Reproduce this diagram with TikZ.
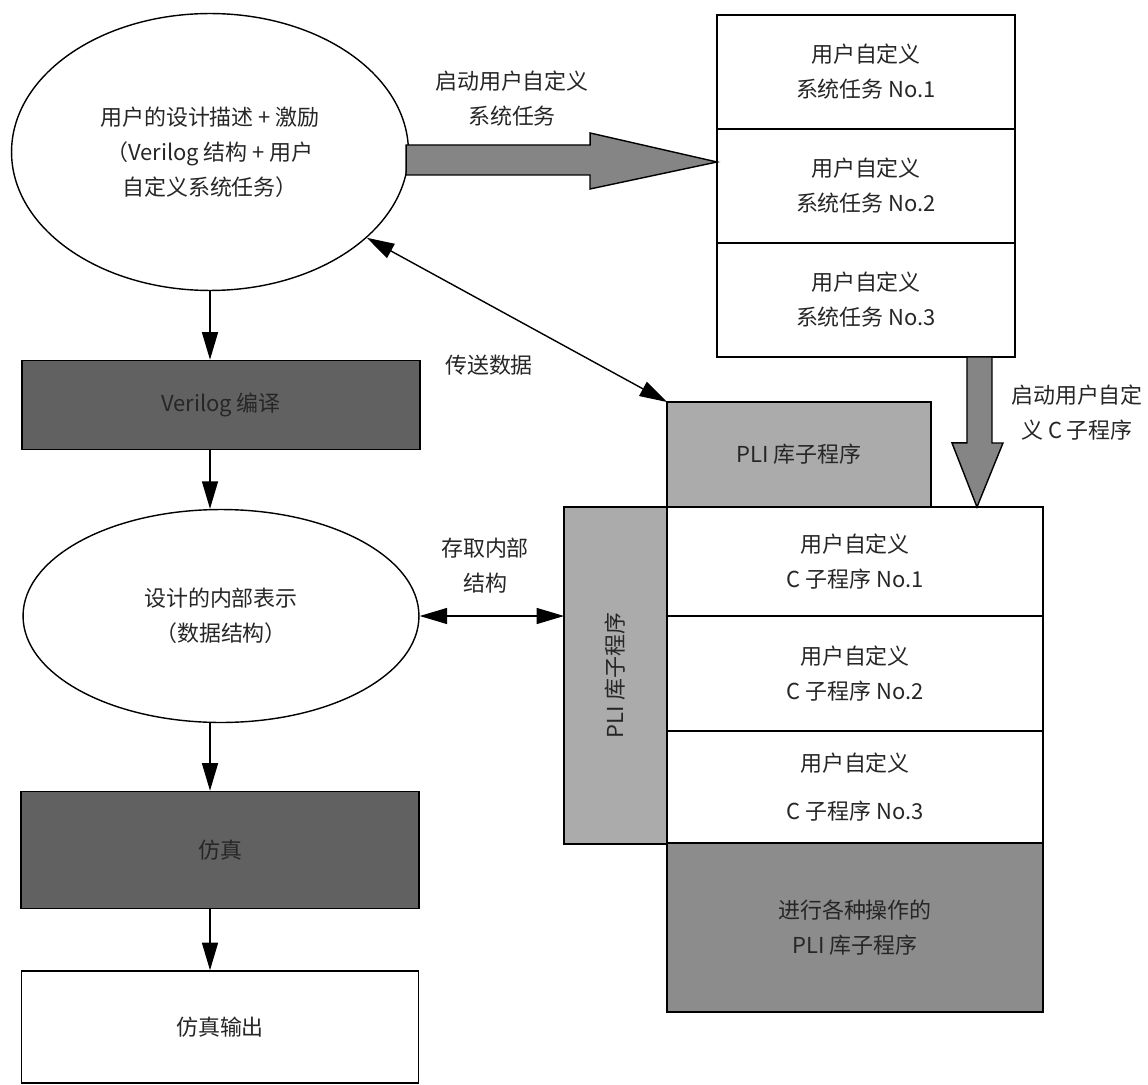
\documentclass[tikz,border=0pt]{standalone}
\usepackage{fontspec}
\setmainfont{Noto Sans CJK SC}
\usetikzlibrary{shapes.geometric,positioning,arrows.meta,calc}

\begin{document}
\begin{tikzpicture}[
  x=0.02cm, y=-0.02cm,
  >={Triangle[length=5.5mm,width=3.2mm]},
  font=\fontsize{12.5pt}{20pt}\selectfont,
  every node/.style={align=center,inner sep=0pt,text=black!85},
  bubble/.style={draw,ellipse,line width=0.8pt},
  cell/.style={draw,line width=0.9pt,fill=white,outer sep=0pt,
    minimum width=5.96cm,minimum height=2.28cm},
  ccell/.style={cell,minimum width=7.52cm},
  darkbox/.style={draw,line width=0.9pt,fill=black!62,minimum width=7.96cm},
  plibox/.style={draw,line width=0.9pt,fill=black!33,outer sep=0pt},
  fatarrow/.style={draw,line width=0.8pt,fill=black!48},
  link/.style={->,line width=0.8pt}
]
  \useasboundingbox (0,0) rectangle (1148,1084);

  % left column: flow of the simulation
  \node[bubble,minimum width=7.94cm,minimum height=5.54cm] (userdesc) at (210,152)
    {用户的设计描述 + 激励\\（Verilog 结构 + 用户\\自定义系统任务）};
  \node[darkbox,minimum height=1.78cm] (verilog) at (221,405) {Verilog 编译};
  \node[bubble,minimum width=7.92cm,minimum height=4.26cm] (internal) at (221,616)
    {设计的内部表示\\（数据结构）};
  \node[darkbox,minimum height=2.34cm] (sim) at (220,850) {仿真};
  \node[draw,line width=0.9pt,minimum width=7.94cm,minimum height=2.24cm] (simout)
    at (220,1027) {仿真输出};

  % user defined system tasks
  \node[cell] (task1) at (866,72) {用户自定义\\系统任务 No.1};
  \node[cell,below=0pt of task1] (task2) {用户自定义\\系统任务 No.2};
  \node[cell,below=0pt of task2] (task3) {用户自定义\\系统任务 No.3};

  % user defined C routines
  \node[ccell,minimum height=2.18cm] (c1) at (855,561.5) {用户自定义\\C 子程序 No.1};
  \node[ccell,minimum height=2.3cm,below=0pt of c1] (c2) {用户自定义\\C 子程序 No.2};
  \node[ccell,minimum height=2.24cm,below=0pt of c2] (c3) {用户自定义\\[7pt]C 子程序 No.3};
  \node[ccell,minimum height=3.38cm,fill=black!45,below=0pt of c3] (ops)
    {进行各种操作的\\PLI 库子程序};

  % PLI library routines
  \node[plibox,minimum width=5.28cm,minimum height=2.1cm,
    above right=0pt of c1.north west] (plitop) {PLI 库子程序};
  \node[plibox,minimum width=2.06cm,minimum height=6.74cm,
    below left=0pt of c1.north west] (plivert) {\rotatebox{90}{PLI 库子程序}};

  % connectors
  \draw[link] (userdesc.south) -- (userdesc.south |- verilog.north);
  \draw[link] (verilog.south -| userdesc.south) -- (internal.north -| userdesc.south);
  \draw[link] (internal.south -| userdesc.south) -- (sim.north -| userdesc.south);
  \draw[link] (sim.south -| userdesc.south) -- (simout.north -| userdesc.south);
  \draw[<->,line width=0.8pt] (plitop.north west) -- (userdesc);
  \draw[<->,line width=0.8pt] (internal.east) -- (internal.east -| plivert.west);

  \draw[fatarrow] (userdesc.east) ++(-3,-7) -- ++(184,0) -- ++(0,-12)
    -- ($(task1.south west)+(0,33)$) -- ++(-127,27) -- ++(0,-14) -- ++(-184,0) -- cycle;
  \draw[fatarrow] ($(task3.south east)+(-48,0)$) -- ++(0,86) -- ++(-15,0)
    -- ($(task3.south east |- c1.north)+(-38,0)$) -- ++(26,-64) -- ++(-11,0) -- ++(0,-86) -- cycle;

  % labels
  \node (callsys) at (512,99) {启动用户自定义\\系统任务};
  \node (senddata) at (489,365) {传送数据};
  \node (access) at (485,566) {存取内部\\结构};
  \node (callc) at (1077,413) {启动用户自定\\义 C 子程序};
\end{tikzpicture}
\end{document}
